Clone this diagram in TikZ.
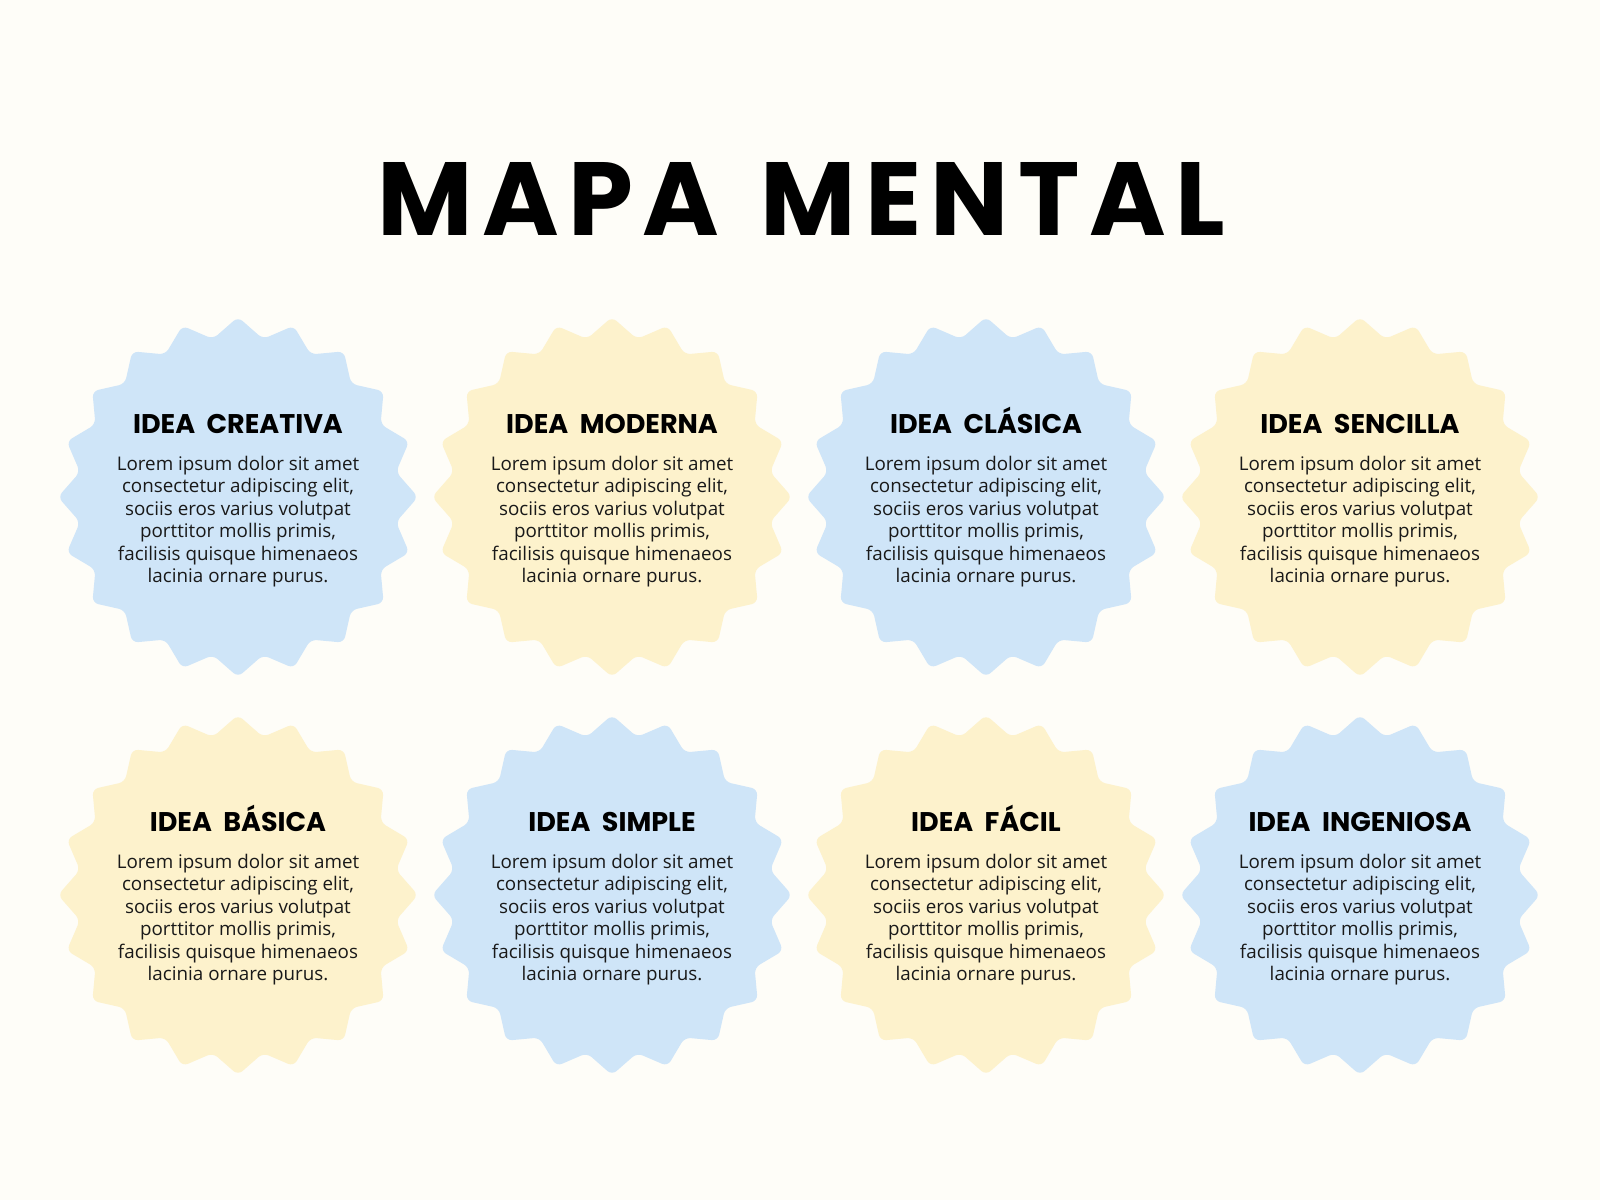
\documentclass[tikz,border=0pt]{standalone}
\usepackage{fontspec}
\setmainfont{Open Sans}
\newfontfamily\titlefont{Poppins}[LetterSpace=9]
\newfontfamily\headfont{Poppins}
\usetikzlibrary{positioning, calc}

\definecolor{pagebg}{HTML}{FEFDF8}
\definecolor{badgeblue}{HTML}{CFE5F8}
\definecolor{badgeyellow}{HTML}{FDF2CC}

\newcommand{\loremtext}{Lorem ipsum dolor sit amet\\ consectetur adipiscing elit,\\ sociis eros varius volutpat\\ porttitor mollis primis,\\ facilisis quisque himenaeos\\ lacinia ornare purus.}

\begin{document}
\begin{tikzpicture}[
    x=1pt, y=-1pt, % one unit = one pixel, y pointing down
    badge/.pic={% star shaped badge with 20 soft points
        \path[pic actions, rounded corners=6pt] (90:180)
            \foreach \i in {1,...,19} { -- ({90+18*\i-9}:160) -- ({90+18*\i}:180) }
            -- (81:160) -- cycle;
    },
    title/.style={font=\titlefont\bfseries\fontsize{104}{112}\selectfont, anchor=base},
    heading/.style={font=\headfont\bfseries\fontsize{27}{32}\selectfont, anchor=base, inner sep=0pt},
    bodytext/.style={font=\fontsize{18.8}{22.4}\selectfont, align=center, anchor=north, inner sep=0pt, text=black!90}
]

    % === Page ===
    \fill[pagebg] (0,0) rectangle (1600,1200);
    \useasboundingbox (0,0) rectangle (1600,1200);

    % === Title ===
    \node[title] (title) at (801,235) {MAPA\ \hspace{10pt}MENTAL};

    % === Badge centres ===
    \coordinate (c1) at (238,497);
    \coordinate (c2) at (612,497);
    \coordinate (c3) at (986,497);
    \coordinate (c4) at (1360,497);
    \coordinate (c5) at (238,895);
    \coordinate (c6) at (612,895);
    \coordinate (c7) at (986,895);
    \coordinate (c8) at (1360,895);

    % ====== FIRST ROW ======
    \pic[fill=badgeblue] at (c1) {badge};
    \node[heading] (head1) at ($(c1)+(0,-64)$) {IDEA\ \ CREATIVA};
    \node[bodytext] (text1) at ($(c1)+(0,-41)$) {\loremtext};

    \pic[fill=badgeyellow] at (c2) {badge};
    \node[heading] (head2) at ($(c2)+(0,-64)$) {IDEA\ \ MODERNA};
    \node[bodytext] (text2) at ($(c2)+(0,-41)$) {\loremtext};

    \pic[fill=badgeblue] at (c3) {badge};
    \node[heading] (head3) at ($(c3)+(0,-64)$) {IDEA\ \ CLÁSICA};
    \node[bodytext] (text3) at ($(c3)+(0,-41)$) {\loremtext};

    \pic[fill=badgeyellow] at (c4) {badge};
    \node[heading] (head4) at ($(c4)+(0,-64)$) {IDEA\ \ SENCILLA};
    \node[bodytext] (text4) at ($(c4)+(0,-41)$) {\loremtext};

    % ====== SECOND ROW ======
    \pic[fill=badgeyellow] at (c5) {badge};
    \node[heading] (head5) at ($(c5)+(0,-64)$) {IDEA\ \ BÁSICA};
    \node[bodytext] (text5) at ($(c5)+(0,-41)$) {\loremtext};

    \pic[fill=badgeblue] at (c6) {badge};
    \node[heading] (head6) at ($(c6)+(0,-64)$) {IDEA\ \ SIMPLE};
    \node[bodytext] (text6) at ($(c6)+(0,-41)$) {\loremtext};

    \pic[fill=badgeyellow] at (c7) {badge};
    \node[heading] (head7) at ($(c7)+(0,-64)$) {IDEA\ \ FÁCIL};
    \node[bodytext] (text7) at ($(c7)+(0,-41)$) {\loremtext};

    \pic[fill=badgeblue] at (c8) {badge};
    \node[heading] (head8) at ($(c8)+(0,-64)$) {IDEA\ \ INGENIOSA};
    \node[bodytext] (text8) at ($(c8)+(0,-41)$) {\loremtext};

\end{tikzpicture}
\end{document}
